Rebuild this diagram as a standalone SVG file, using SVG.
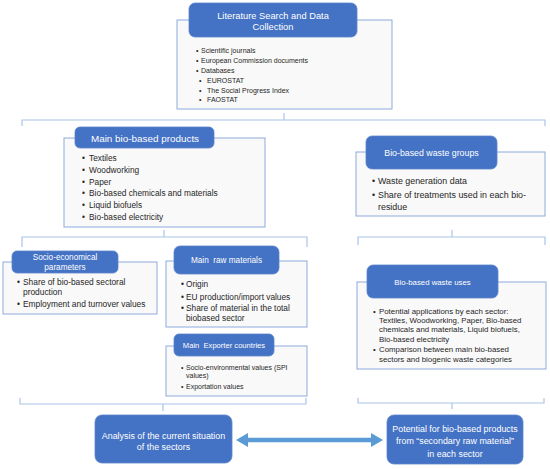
<svg xmlns="http://www.w3.org/2000/svg" width="550" height="469" viewBox="0 0 550 469">
<style>
.lb{fill:#F9F9F9;stroke:#8FAADC;stroke-width:1}
.bb{fill:#4472C4;stroke:#5A84CC;stroke-width:0.8}
.br{fill:none;stroke:#A9C4E8;stroke-width:1.2}
.t{font-family:"Liberation Sans",Arial,sans-serif;fill:#262626}
.w{font-family:"Liberation Sans",Arial,sans-serif;fill:#FFFFFF;text-anchor:middle}
</style>
<rect width="550" height="469" fill="#FFFFFF"/>
<g id="connectors">
<path class="br" d="M22,126 V120 H545 V126 M284,120 V113"/>
<path class="br" d="M22,247 V237 H307 V247 M164,237 V230"/>
<path class="br" d="M358,245 V237 H545 V245 M452,237 V230"/>
<path class="br" d="M20,398 V404 H306 V398 M163,404 V411"/>
<path class="br" d="M358,398 V403 H544 V398 M452,403 V409"/>
<path fill="#5B9BD5" d="M236,440 L248,433 L248,437.75 L371,437.75 L371,433 L383,440 L371,447 L371,442.25 L248,442.25 L248,447 Z"/>
</g>
<g id="literature">
<rect class="lb" x="177" y="20" width="215" height="89"/>
<rect class="bb" x="189" y="3" width="168" height="34" rx="6"/>
<text class="w" font-size="9.3" x="273" y="18.5">Literature Search and Data</text>
<text class="w" font-size="9.3" x="273" y="29.5">Collection</text>
<g class="t" font-size="7">
<text x="196" y="52.5">•</text><text x="201" y="52.5">Scientific journals</text>
<text x="196" y="62.5">•</text><text x="201" y="62.5">European Commission documents</text>
<text x="196" y="72.5">•</text><text x="201" y="72.5">Databases</text>
<text x="199" y="82.5">•</text><text x="207" y="82.5">EUROSTAT</text>
<text x="199" y="92.5">•</text><text x="207" y="92.5">The Social Progress Index</text>
<text x="199" y="101.5">•</text><text x="207" y="101.5">FAOSTAT</text>
</g>
</g>
<g id="products">
<rect class="lb" x="64" y="138" width="201" height="89"/>
<rect class="bb" x="75" y="127" width="139" height="21" rx="5"/>
<text class="w" font-size="9.9" x="145" y="141.5">Main bio-based products</text>
<g class="t" font-size="8.3">
<text x="82" y="161">•</text><text x="89" y="161">Textiles</text>
<text x="82" y="173">•</text><text x="89" y="173">Woodworking</text>
<text x="82" y="184.5">•</text><text x="89" y="184.5">Paper</text>
<text x="82" y="196">•</text><text x="89" y="196">Bio-based chemicals and materials</text>
<text x="82" y="208">•</text><text x="89" y="208">Liquid biofuels</text>
<text x="82" y="220">•</text><text x="89" y="220">Bio-based electricity</text>
</g>
</g>
<g id="waste-groups">
<rect class="lb" x="356" y="152" width="189" height="64"/>
<rect class="bb" x="366" y="136" width="131" height="33" rx="6"/>
<text class="w" font-size="8.8" x="431.5" y="155.5">Bio-based waste groups</text>
<g class="t" font-size="8.9">
<text x="372" y="184">•</text><text x="378" y="184">Waste generation data</text>
<text x="372" y="198">•</text><text x="378" y="198">Share of treatments used in each bio-</text>
<text x="378" y="210">residue</text>
</g>
</g>
<g id="socio">
<rect class="lb" x="3" y="262" width="154" height="52"/>
<rect class="bb" x="12" y="251" width="106" height="22" rx="5"/>
<text class="w" font-size="8.2" x="65" y="260">Socio-economical</text>
<text class="w" font-size="8.2" x="65" y="270">parameters</text>
<g class="t" font-size="8.4">
<text x="17" y="285">•</text><text x="23" y="285">Share of bio-based sectoral</text>
<text x="23" y="295">production</text>
<text x="17" y="307">•</text><text x="23" y="307">Employment and turnover values</text>
</g>
</g>
<g id="raw-materials">
<rect class="lb" x="166" y="261" width="141" height="66"/>
<rect class="bb" x="174" y="246" width="105" height="28" rx="6"/>
<text class="w" font-size="8.2" x="226.5" y="263" xml:space="preserve">Main  raw materials</text>
<g class="t" font-size="8.3">
<text x="181" y="287">•</text><text x="186" y="287">Origin</text>
<text x="181" y="300">•</text><text x="186" y="300">EU production/import values</text>
<text x="181" y="311">•</text><text x="186" y="311">Share of material in the total</text>
<text x="186" y="321">biobased sector</text>
</g>
</g>
<g id="exporters">
<rect class="lb" x="166" y="346" width="141" height="50"/>
<rect class="bb" x="174" y="334" width="100" height="22" rx="5"/>
<text class="w" font-size="7.6" x="224" y="347.7" xml:space="preserve">Main  Exporter countries</text>
<g class="t" font-size="7">
<text x="181" y="369.5">•</text><text x="186" y="369.5">Socio-environmental values (SPI</text>
<text x="186" y="377.5">values)</text>
<text x="181" y="388.5">•</text><text x="186" y="388.5">Exportation values</text>
</g>
</g>
<g id="waste-uses">
<rect class="lb" x="357" y="282" width="189" height="87"/>
<rect class="bb" x="367" y="265" width="131" height="33" rx="6"/>
<text class="w" font-size="7.8" x="432.5" y="284.5">Bio-based waste uses</text>
<g class="t" font-size="7.85">
<text x="373" y="313.5">•</text><text x="379" y="313.5">Potential applications by each sector:</text>
<text x="379" y="322.5">Textiles, Woodworking, Paper, Bio-based</text>
<text x="379" y="331.5">chemicals and materials, Liquid biofuels,</text>
<text x="379" y="341.5">Bio-based electricity</text>
<text x="373" y="351.5">•</text><text x="379" y="351.5">Comparison between main bio-based</text>
<text x="379" y="361.5">sectors and biogenic waste categories</text>
</g>
</g>
<g id="analysis">
<rect class="bb" x="95" y="415" width="137" height="48" rx="7"/>
<text class="w" font-size="8.9" x="163.5" y="439">Analysis of the current situation</text>
<text class="w" font-size="8.9" x="163.5" y="450">of the sectors</text>
</g>
<g id="potential">
<rect class="bb" x="387" y="415" width="136" height="49" rx="7"/>
<text class="w" font-size="8.9" x="455" y="432">Potential for bio-based products</text>
<text class="w" font-size="8.9" x="455" y="444">from “secondary raw material”</text>
<text class="w" font-size="8.9" x="455" y="457">in each sector</text>
</g>
</svg>
